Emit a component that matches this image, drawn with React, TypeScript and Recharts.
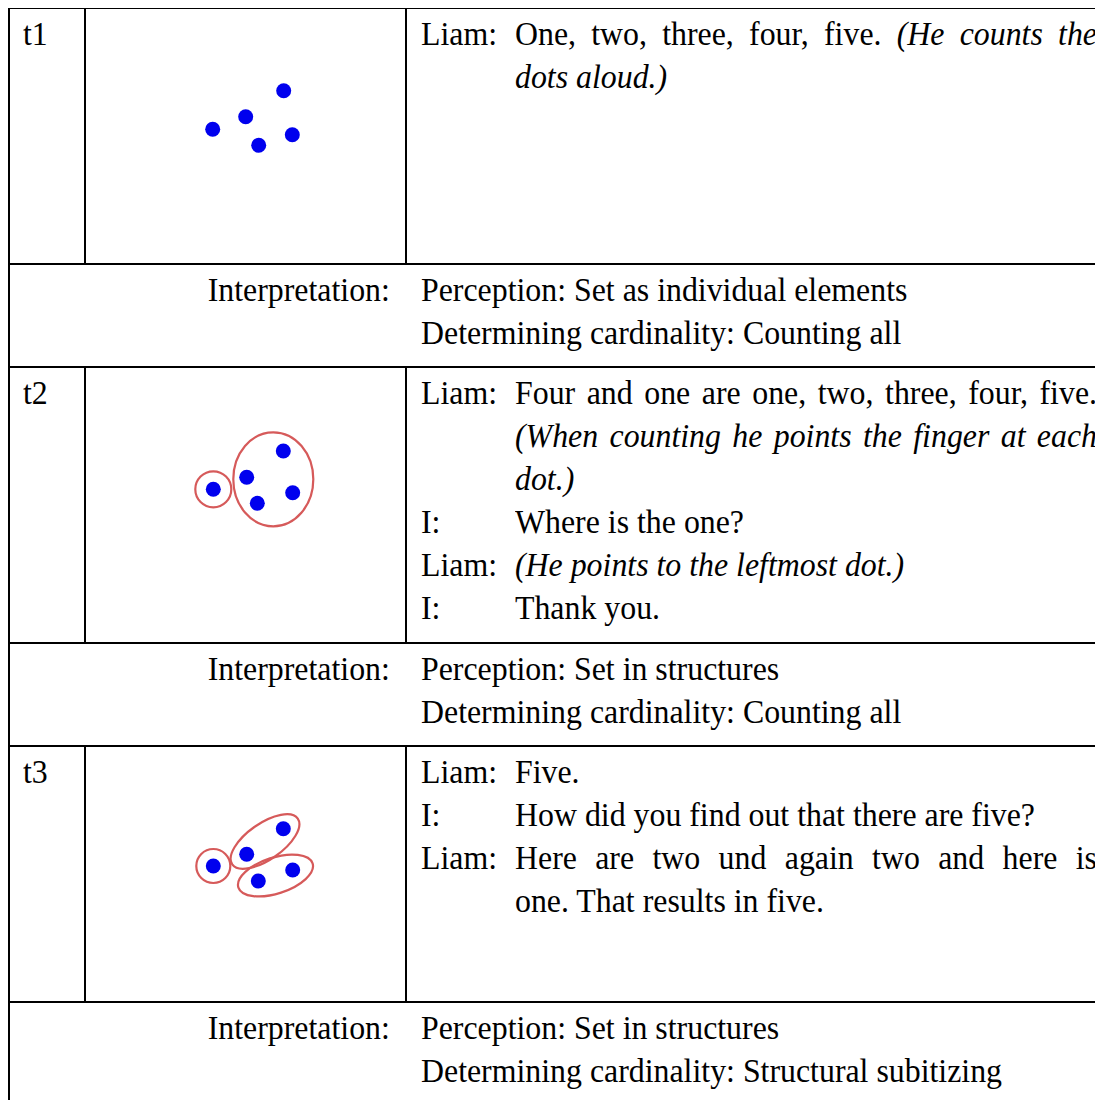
import React from "react";
import { ScatterChart, Scatter, XAxis, YAxis } from "recharts";

// dot picture coordinates, in the cell's own units (x right, y down)
const T1_DOTS = [
  { x: 127.7, y: 121.3 },
  { x: 160.7, y: 108.7 },
  { x: 198.7, y: 82.7 },
  { x: 173.7, y: 137.3 },
  { x: 207.3, y: 126.7 },
];
const T2_DOTS = [
  { x: 128.3, y: 122.3 },
  { x: 161.7, y: 110.3 },
  { x: 198.3, y: 84 },
  { x: 172.3, y: 136.3 },
  { x: 207.7, y: 125.7 },
];
const T3_DOTS = [
  { x: 128.3, y: 120 },
  { x: 161.7, y: 108.3 },
  { x: 198.3, y: 82.7 },
  { x: 173.3, y: 135 },
  { x: 207.7, y: 124 },
];

// groupings: centre, half axes and tilt in degrees
const T2_RINGS = [
  { x: 128.3, y: 122.3, rx: 18, ry: 18, tilt: 0 },
  { x: 188.3, y: 112.3, rx: 40, ry: 47, tilt: 0 },
];
const T3_RINGS = [
  { x: 128.3, y: 120, rx: 17, ry: 17, tilt: 0 },
  { x: 180, y: 95.5, rx: 40, ry: 18, tilt: -35 },
  { x: 190.5, y: 129.5, rx: 39, ry: 18, tilt: -18 },
];

const STEP_LABELS = ["t1", "t2", "t3"];

type Part = [string, boolean];
type TLine = { who: string; parts: Part[]; justify?: boolean };

const T1_TALK: TLine[] = [
  { who: "Liam:", parts: [["One, two, three, four, five. ", false], ["(He counts the", true]], justify: true },
  { who: "", parts: [["dots aloud.)", true]] },
];
const T2_TALK: TLine[] = [
  { who: "Liam:", parts: [["Four and one are one, two, three, four, five.", false]], justify: true },
  { who: "", parts: [["(When counting he points the finger at each", true]], justify: true },
  { who: "", parts: [["dot.)", true]] },
  { who: "I:", parts: [["Where is the one?", false]] },
  { who: "Liam:", parts: [["(He points to the leftmost dot.)", true]] },
  { who: "I:", parts: [["Thank you.", false]] },
];
const T3_TALK: TLine[] = [
  { who: "Liam:", parts: [["Five.", false]] },
  { who: "I:", parts: [["How did you find out that there are five?", false]] },
  { who: "Liam:", parts: [["Here are two und again two and here is", false]], justify: true },
  { who: "", parts: [["one. That results in five.", false]] },
];

const INTERP_LABEL = "Interpretation:";
const INTERP_1 = ["Perception: Set as individual elements", "Determining cardinality: Counting all"];
const INTERP_2 = ["Perception: Set in structures", "Determining cardinality: Counting all"];
const INTERP_3 = ["Perception: Set in structures", "Determining cardinality: Structural subitizing"];

const FONT = '"Liberation Serif", "Times New Roman", serif';
const FS = 33;
const LH = 43;
const SX = 0.965;
const CELL_W = 321;
const CELL_H = 256;
const OX = 8;
const OY = 8;

const DotShape = (p: any) => <circle cx={p.cx} cy={p.cy} r={7.5} fill="#0000ee" />;

const RingShape = (p: any) => {
  const d = p.payload;
  return (
    <ellipse
      cx={p.cx}
      cy={p.cy}
      rx={d.rx}
      ry={d.ry}
      transform={`rotate(${d.tilt} ${p.cx} ${p.cy})`}
      fill="none"
      stroke="#d65a5a"
      strokeWidth={2.2}
    />
  );
};

function DotPanel({ dots, rings }: { dots: any[]; rings: any[] }) {
  return (
    <ScatterChart width={CELL_W} height={CELL_H} margin={{ top: 0, right: 0, bottom: 0, left: 0 }}>
      <XAxis type="number" dataKey="x" domain={[0, CELL_W]} hide />
      <YAxis type="number" dataKey="y" domain={[0, CELL_H]} reversed hide />
      {rings.length > 0 && <Scatter data={rings} shape={RingShape} isAnimationActive={false} />}
      <Scatter data={dots} shape={DotShape} isAnimationActive={false} />
    </ScatterChart>
  );
}

function TextLine({ x, y, w, justify, align, children }: any) {
  const right = align === "right";
  return (
    <div
      style={{
        position: "absolute",
        left: right ? x - w / SX : x,
        top: y,
        width: w / SX,
        height: LH,
        lineHeight: LH + "px",
        fontSize: FS,
        whiteSpace: justify ? "normal" : "nowrap",
        textAlign: justify ? "justify" : right ? "right" : "left",
        textAlignLast: justify ? "justify" : right ? "right" : "left",
        transform: `scaleX(${SX})`,
        transformOrigin: right ? "right top" : "left top",
        color: "#000",
      } as any}
    >
      {children}
    </div>
  );
}

const hl = (y: number, x0: number, x1: number, k: string) => (
  <div key={k} style={{ position: "absolute", left: x0 - OX, top: y - 1 - OY, width: x1 - x0, height: 2, background: "#000" }} />
);
const vl = (x: number, y0: number, y1: number, k: string) => (
  <div key={k} style={{ position: "absolute", left: x - 1 - OX, top: y0 - OY, width: 2, height: y1 - y0, background: "#000" }} />
);

export default function App() {
  const rows = [
    { top: 8, bottom: 264, dots: T1_DOTS, rings: [] as any[], talk: T1_TALK, interpTop: 264, interp: INTERP_1 },
    { top: 367, bottom: 643, dots: T2_DOTS, rings: T2_RINGS, talk: T2_TALK, interpTop: 643, interp: INTERP_2 },
    { top: 746, bottom: 1002, dots: T3_DOTS, rings: T3_RINGS, talk: T3_TALK, interpTop: 1002, interp: INTERP_3 },
  ];
  const items: any[] = [];
  rows.forEach((r, i) => {
    items.push(
      <div key={"c" + i} style={{ position: "absolute", left: 85 - OX, top: r.top - OY }}>
        <DotPanel dots={r.dots} rings={r.rings} />
      </div>
    );
    items.push(
      <TextLine key={"l" + i} x={23 - OX} y={r.top + 5 - OY} w={60}>
        {STEP_LABELS[i]}
      </TextLine>
    );
    r.talk.forEach((ln, j) => {
      const y = r.top + 5 + LH * j - OY;
      if (ln.who)
        items.push(
          <TextLine key={`w${i}-${j}`} x={421 - OX} y={y} w={90}>
            {ln.who}
          </TextLine>
        );
      items.push(
        <TextLine key={`t${i}-${j}`} x={515 - OX} y={y} w={1097 - 515} justify={ln.justify}>
          {ln.parts.map((p, k) => (p[1] ? <i key={k}>{p[0]}</i> : <span key={k}>{p[0]}</span>))}
        </TextLine>
      );
    });
    items.push(
      <TextLine key={"il" + i} x={390 - OX} y={r.interpTop + 5 - OY} w={300} align="right">
        {INTERP_LABEL}
      </TextLine>
    );
    r.interp.forEach((s, j) => {
      items.push(
        <TextLine key={`ip${i}-${j}`} x={421 - OX} y={r.interpTop + 5 + LH * j - OY} w={650}>
          {s}
        </TextLine>
      );
    });
    items.push(hl(r.top, 8, 1103, "ht" + i));
    items.push(hl(r.interpTop, 8, 1103, "hi" + i));
    items.push(vl(85, r.top, r.bottom, "v1" + i));
    items.push(vl(406, r.top, r.bottom, "v2" + i));
  });
  items.push(vl(9, 8, 1100, "left"));

  return (
    <div
      style={{
        position: "relative",
        width: 1103 - OX,
        height: 1100 - OY,
        overflow: "hidden",
        background: "#fff",
        fontFamily: FONT,
      }}
    >
      {items}
    </div>
  );
}
